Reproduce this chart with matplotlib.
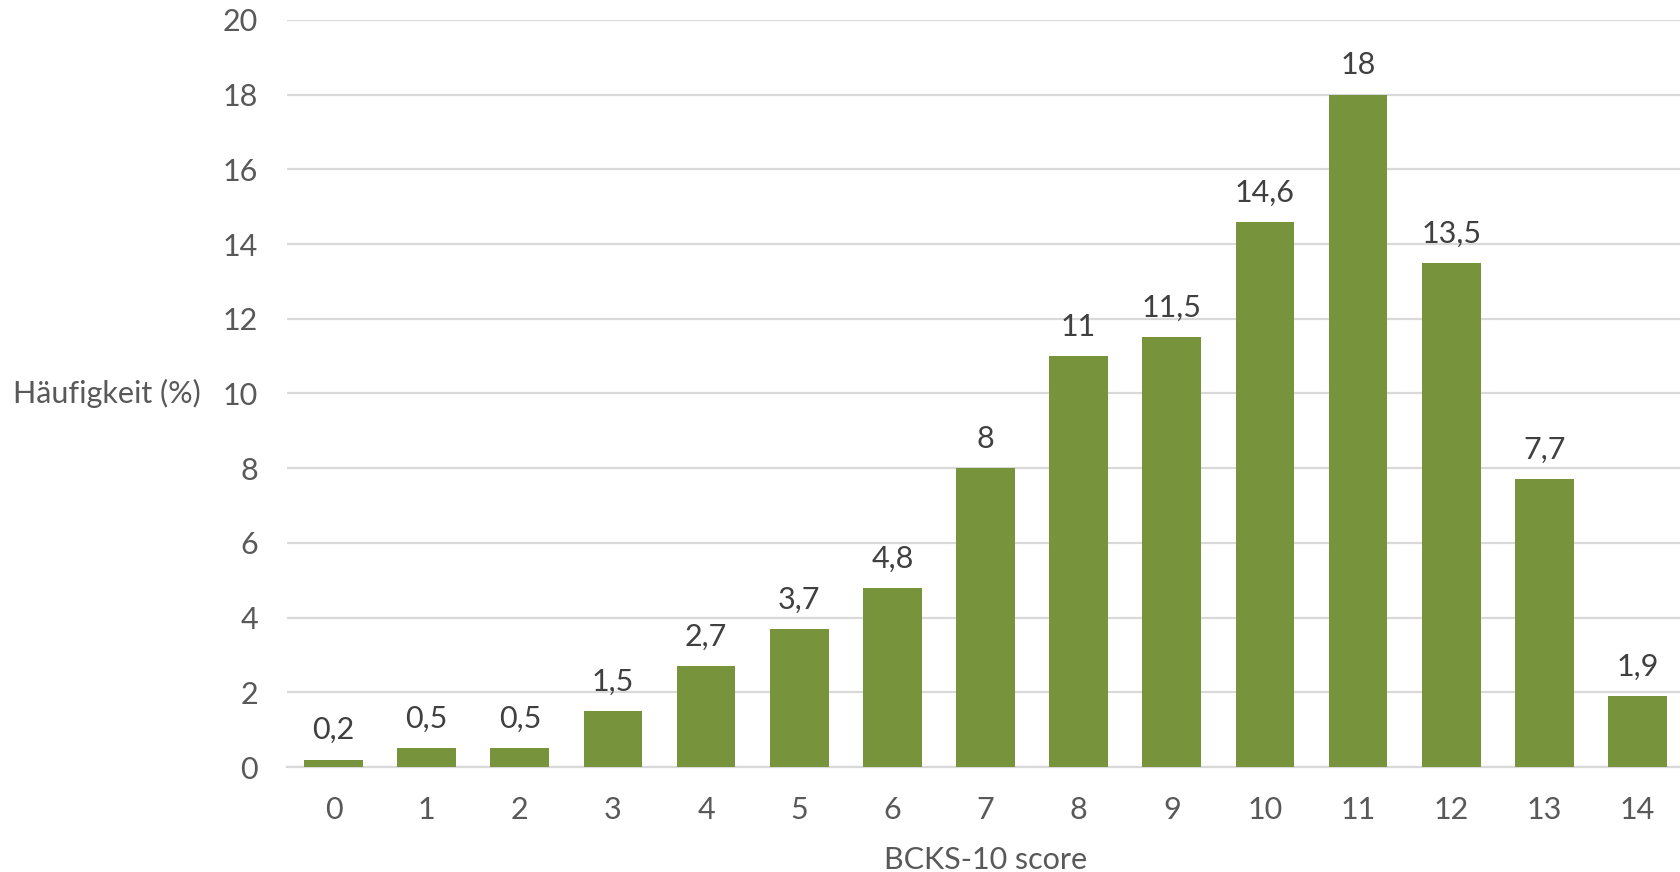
import matplotlib.pyplot as plt


SCORES = list(range(15))
FREQUENCIES = [0.2, 0.5, 0.5, 1.5, 2.7, 3.7, 4.8, 8, 11, 11.5, 14.6, 18, 13.5, 7.7, 1.9]
Y_TICKS = list(range(0, 21, 2))

BAR_COLOR = "#77933C"
TEXT_COLOR = "#595959"
GRID_COLOR = "#D9D9D9"


def format_value(value):
    return f"{value:g}".replace(".", ",")


def main():
    plt.rcParams["font.family"] = ["Lato", "DejaVu Sans"]

    fig = plt.figure(figsize=(16.81, 8.72), dpi=100)
    ax = fig.add_axes([287 / 1681, 1 - 767 / 872, 1397 / 1681, 747 / 872])

    bars = ax.bar(SCORES, FREQUENCIES, width=0.63, color=BAR_COLOR, zorder=3)

    for bar, value in zip(bars, FREQUENCIES):
        ax.annotate(format_value(value),
                    (bar.get_x() + bar.get_width() / 2, value),
                    xytext=(0, 11), textcoords="offset points",
                    ha="center", va="bottom", fontsize=22, color="#404040")

    ax.set_xlim(-0.5, 14.5)
    ax.set_ylim(0, 20)
    ax.set_yticks(Y_TICKS)
    ax.set_xticks(SCORES)
    ax.yaxis.grid(True, color=GRID_COLOR, linewidth=1.6, zorder=0)
    ax.set_axisbelow(True)

    for side in ("top", "right", "left"):
        ax.spines[side].set_visible(False)
    ax.spines["bottom"].set_color(GRID_COLOR)
    ax.spines["bottom"].set_linewidth(1.6)

    ax.tick_params(axis="both", length=0, labelsize=22, colors=TEXT_COLOR)
    ax.tick_params(axis="y", pad=21)
    ax.tick_params(axis="x", pad=21)

    ax.set_xlabel("BCKS-10 score", fontsize=22, color=TEXT_COLOR, labelpad=16)
    fig.text(13 / 1681, 1 - 393 / 872, "Häufigkeit (%)", fontsize=22,
             color=TEXT_COLOR, ha="left", va="center")

    fig.savefig("out.png", dpi=100)


if __name__ == "__main__":
    main()
